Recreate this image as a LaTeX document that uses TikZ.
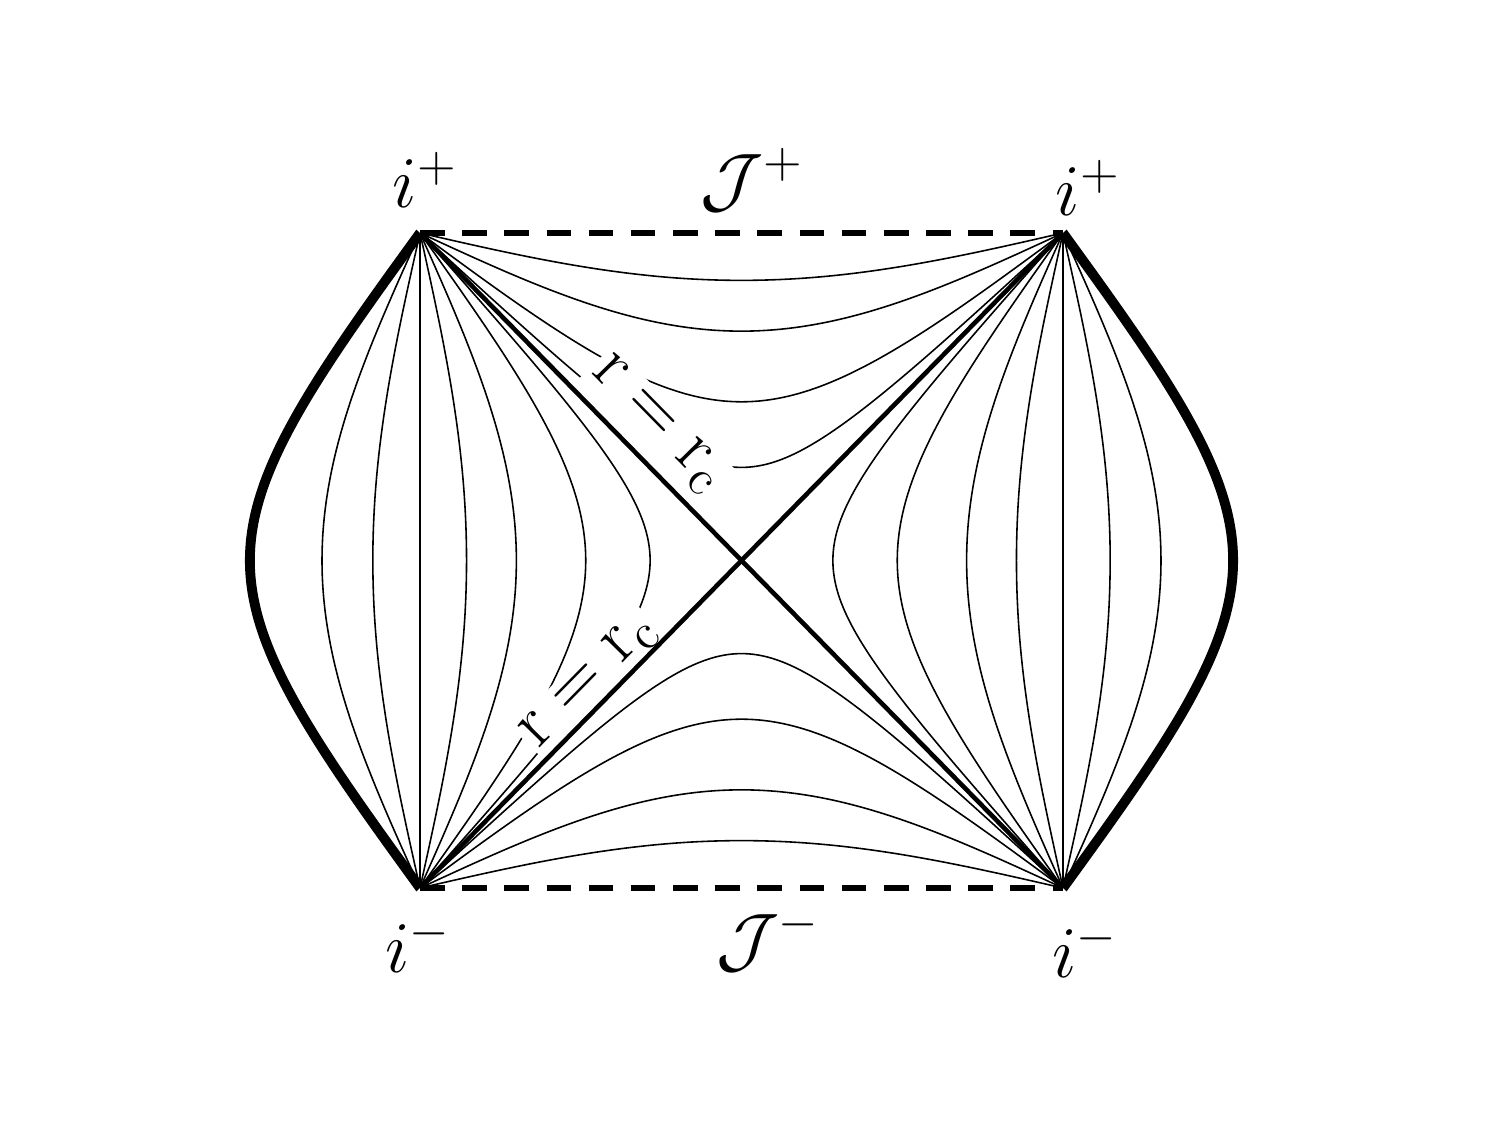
\documentclass[tikz,border=0pt]{standalone}
\begin{document}
\begin{tikzpicture}[
  thinline/.style={line width=0.45pt},
  horizon/.style={line width=1.3pt},
  boundary/.style={line width=2.8pt, line join=round},
  scri/.style={line width=1.7pt, dash pattern=on 7pt off 5pt},
  lbl/.style={font=\fontsize{20}{24}\selectfont},
  diaglbl/.style={font=\fontsize{20}{24}\selectfont, fill=white, inner sep=1pt}
]
\useasboundingbox (0,0) rectangle (15,11.25);
\def\cx{7.415}
\def\cy{5.645}
\def\sx{0.035722}
\def\sy{0.036389}
\coordinate (TL) at (4.20,8.92);
\coordinate (TR) at (10.63,8.92);
\coordinate (BL) at (4.20,2.37);
\coordinate (BR) at (10.63,2.37);
% thin constant-r curves, left and right regions
\foreach \a in {0.227,0.400,0.613,0.795,1.262,1.646}{
  \draw[thinline] plot[domain=-8:8, samples=241, smooth, variable=\s]
    ({\cx - \sx*(atan(\a*exp(\s)) + atan(\a*exp(-\s)))},
     {\cy + \sy*(atan(\a*exp(\s)) - atan(\a*exp(-\s)))});
  \draw[thinline] plot[domain=-8:8, samples=241, smooth, variable=\s]
    ({\cx + \sx*(atan(\a*exp(\s)) + atan(\a*exp(-\s)))},
     {\cy + \sy*(atan(\a*exp(\s)) - atan(\a*exp(-\s)))});
}
% top and bottom regions
\foreach \a in {0.227,0.400,0.613,0.795}{
  \draw[thinline] plot[domain=-8:8, samples=241, smooth, variable=\s]
    ({\cx + \sx*(atan(\a*exp(\s)) - atan(\a*exp(-\s)))},
     {\cy + \sy*(atan(\a*exp(\s)) + atan(\a*exp(-\s)))});
  \draw[thinline] plot[domain=-8:8, samples=241, smooth, variable=\s]
    ({\cx + \sx*(atan(\a*exp(\s)) - atan(\a*exp(-\s)))},
     {\cy - \sy*(atan(\a*exp(\s)) + atan(\a*exp(-\s)))});
}
% vertical lines r = 0
\draw[thinline] (TL) -- (BL);
\draw[thinline] (TR) -- (BR);
% labels on horizons
\node[diaglbl, rotate=-45.5] (rc1) at (6.57,7.00) {$\mathrm{r}=\mathrm{r}_\mathrm{c}$};
\node[diaglbl, rotate=45.5] (rc2) at (5.90,4.43) {$\mathrm{r}=\mathrm{r}_\mathrm{c}$};
% horizons
\draw[horizon] (TL) -- (BR);
\draw[horizon] (TR) -- (BL);
% thick outer boundaries
\draw[boundary] plot[domain=-8:8, samples=241, smooth, variable=\s]
    ({\cx - \sx*(atan(2.58*exp(\s)) + atan(2.58*exp(-\s)))},
     {\cy + \sy*(atan(2.58*exp(\s)) - atan(2.58*exp(-\s)))});
\draw[boundary] plot[domain=-8:8, samples=241, smooth, variable=\s]
    ({\cx + \sx*(atan(2.58*exp(\s)) + atan(2.58*exp(-\s)))},
     {\cy + \sy*(atan(2.58*exp(\s)) - atan(2.58*exp(-\s)))});
% null infinity
\draw[scri] (TL) -- (TR);
\draw[scri] (BL) -- (BR);
% corner labels
\node[lbl] (ipl) at (4.25,9.45) {$i^+$};
\node[lbl] (Jp) at (7.52,9.45) {$\mathcal{J}^+$};
\node[lbl] (ipr) at (10.88,9.37) {$i^+$};
\node[lbl] (iml) at (4.18,1.80) {$i^-$};
\node[lbl] (Jm) at (7.68,1.85) {$\mathcal{J}^-$};
\node[lbl] (imr) at (10.85,1.75) {$i^-$};
\end{tikzpicture}
\end{document}
